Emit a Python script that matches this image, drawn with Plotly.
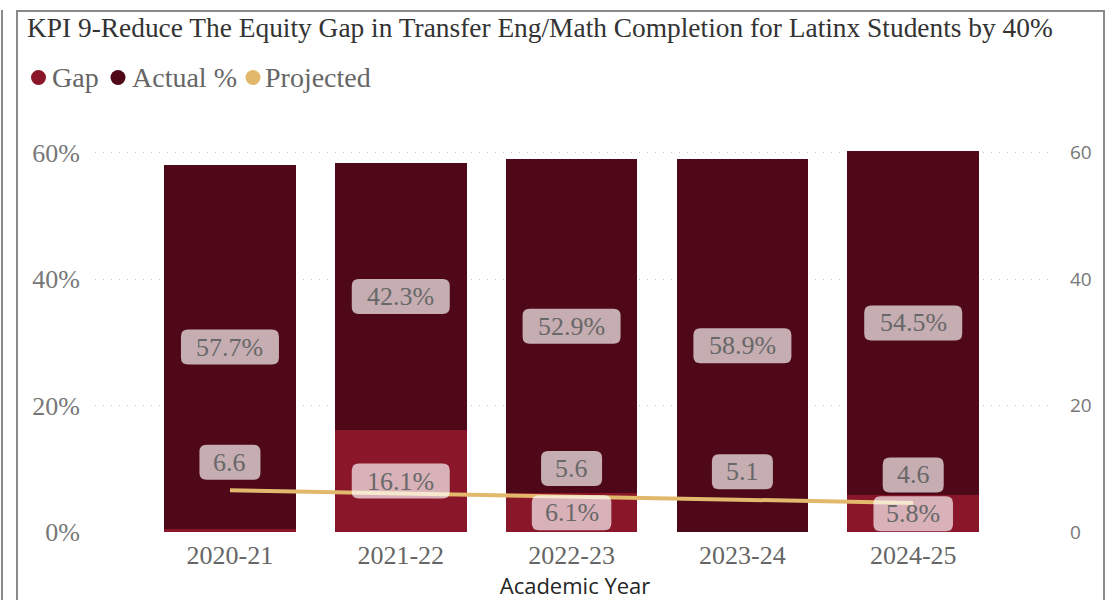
import plotly.graph_objects as go

# Academic years and KPI values (percent)
years = ["2020-21", "2021-22", "2022-23", "2023-24", "2024-25"]
gap_pct = [0.4, 16.1, 6.1, 0.0, 5.8]
actual_pct = [57.7, 42.3, 52.9, 58.9, 54.5]
projected = [6.6, 6.1, 5.6, 5.1, 4.6]
pct_ticks = [0, 20, 40, 60]
num_ticks = [0, 20, 40, 60]
series_names = ["Gap", "Actual %", "Projected"]

GAP_C = "#891729"
ACT_C = "#4F0818"
PROJ_C = "#E2B96C"
series_colors = [GAP_C, ACT_C, PROJ_C]
SERIF = "Liberation Serif, Times New Roman, Times, serif"
SANS = "Open Sans, Noto Sans, sans-serif"
LABEL_GREY = "#686868"

# figure geometry in pixels
W, H = 1108, 600
ML, MR, MT, MB = 95, 53, 140, 68
Y_TOP = 61.98
plot_w = W - ML - MR
plot_h = H - MT - MB
px_per_unit = plot_h / Y_TOP
BOX_H = 35
PROJ_DY = 28


def paper_x(px):
    return (px - ML) / plot_w


def paper_y(py):
    return (H - MB - py) / plot_h


def box_path(w, h, r, dy=0.0):
    hw, hh = w / 2, h / 2
    t, b = dy + hh, dy - hh
    return (f"M {-hw + r},{b} L {hw - r},{b} Q {hw},{b} {hw},{b + r} "
            f"L {hw},{t - r} Q {hw},{t} {hw - r},{t} L {-hw + r},{t} "
            f"Q {-hw},{t} {-hw},{t - r} L {-hw},{b + r} Q {-hw},{b} {-hw + r},{b} Z")


fig = go.Figure()
fig.add_trace(go.Bar(x=years, y=gap_pct, name="Gap", marker_color=GAP_C,
                     marker_line_width=0, showlegend=False))
fig.add_trace(go.Bar(x=years, y=actual_pct, name="Actual %", marker_color=ACT_C,
                     marker_line_width=0, showlegend=False))
fig.add_trace(go.Scatter(x=years, y=projected, name="Projected", yaxis="y2",
                         mode="lines", line=dict(color=PROJ_C, width=4),
                         showlegend=False))

shapes = []
annotations = []


def add_label(i, yval, yref, text, dy=0):
    w = 18.5 * len(text) + 5.5
    shapes.append(dict(type="path", xref="x", yref=yref,
                       xsizemode="pixel", ysizemode="pixel",
                       xanchor=i, yanchor=yval,
                       path=box_path(w, BOX_H, 7, dy),
                       fillcolor="rgba(255,255,255,0.67)",
                       line=dict(width=0), layer="above"))
    annotations.append(dict(x=years[i], y=yval, xref="x", yref=yref,
                            text=text, showarrow=False, yshift=dy,
                            font=dict(family=SERIF, size=26, color=LABEL_GREY)))


gap_label_y = {}
for i, (g, a) in enumerate(zip(gap_pct, actual_pct)):
    if g >= 1:
        gap_label_y[i] = g / 2
        add_label(i, g / 2, "y", f"{g:.1f}%")
    add_label(i, g + a / 2, "y", f"{a:.1f}%")

for i, p in enumerate(projected):
    # skip a projected label that would sit on top of a gap label
    if i in gap_label_y:
        sep = abs((p - gap_label_y[i]) * px_per_unit + PROJ_DY)
        if sep < BOX_H:
            continue
    add_label(i, p, "y2", f"{p:.1f}", dy=PROJ_DY)

# legend row: coloured dot + series name
legend_dot_x = [38.5, 118, 253]
legend_text_x = [50, 130, 263]
LEG_Y, DOT_R = 77.5, 7.5
for name, col, dx, tx in zip(series_names, series_colors, legend_dot_x, legend_text_x):
    shapes.append(dict(type="circle", xref="paper", yref="paper",
                       x0=paper_x(dx - DOT_R), x1=paper_x(dx + DOT_R),
                       y0=paper_y(LEG_Y + DOT_R), y1=paper_y(LEG_Y - DOT_R),
                       fillcolor=col, line=dict(width=0), layer="above"))
    annotations.append(dict(x=paper_x(tx), y=paper_y(LEG_Y), xref="paper", yref="paper",
                            xanchor="left", yanchor="middle", showarrow=False,
                            text=name,
                            font=dict(family=SERIF, size=28, color="#666666")))

# visual frame
shapes.append(dict(type="rect", xref="paper", yref="paper",
                   x0=paper_x(17), x1=paper_x(1104), y0=paper_y(620), y1=paper_y(11),
                   line=dict(color="#8a8a8a", width=2), layer="below"))
shapes.append(dict(type="line", xref="paper", yref="paper",
                   x0=paper_x(2), x1=paper_x(2), y0=paper_y(620), y1=paper_y(10),
                   line=dict(color="#8a8a8a", width=2), layer="below"))

fig.update_layout(
    width=W, height=H,
    margin=dict(l=ML, r=MR, t=MT, b=MB),
    paper_bgcolor="white", plot_bgcolor="white",
    barmode="stack", bargap=0.23,
    title=dict(text="KPI 9-Reduce The Equity Gap in Transfer Eng/Math Completion for Latinx Students by 40%",
               x=27 / W, xanchor="left", xref="container",
               y=1 - 27 / H, yanchor="middle", yref="container",
               font=dict(family=SERIF, size=27.4, color="#333333")),
    xaxis=dict(type="category", range=[-0.79, 4.83], showgrid=False,
               showline=False, zeroline=False, ticks="", automargin=False,
               ticklabelstandoff=5,
               tickfont=dict(family=SERIF, size=26, color="#666666"),
               title=dict(text="Academic Year", standoff=10,
                          font=dict(family=SANS, size=22, color="#252525"))),
    yaxis=dict(range=[0, Y_TOP], tickvals=pct_ticks, automargin=False,
               ticktext=[f"{v}%" for v in pct_ticks],
               showgrid=True, gridcolor="#c4c4c4", griddash="1px,7px", gridwidth=1,
               zeroline=False, showline=False, ticks="", ticklabelstandoff=14,
               tickfont=dict(family=SERIF, size=26, color="#777777")),
    yaxis2=dict(range=[0, Y_TOP], tickvals=num_ticks, overlaying="y", side="right",
                showgrid=False, zeroline=False, showline=False, ticks="",
                ticklabelstandoff=14, automargin=False,
                tickfont=dict(family=SANS, size=19, color="#777777")),
    shapes=shapes,
    annotations=annotations,
)

fig.write_html("out.html")
